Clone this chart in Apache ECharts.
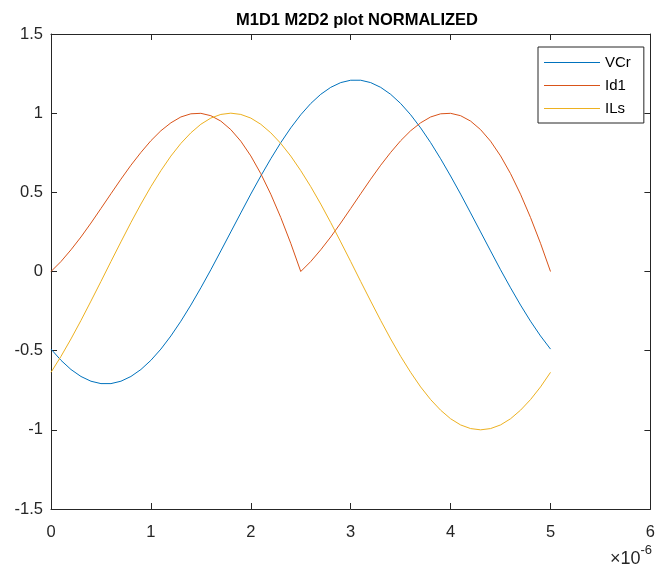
<!DOCTYPE html>
<html>
<head>
<meta charset="utf-8">
<title>M1D1 M2D2 plot NORMALIZED</title>
<script src="https://cdn.jsdelivr.net/npm/echarts@6/dist/echarts.min.js"></script>
<style>
  html, body { margin: 0; padding: 0; background: #ffffff; }
  #chart { width: 658px; height: 572px; }
</style>
</head>
<body>
<div id="chart"></div>
<script>
// Time samples, in units of 1e-6 s
const timeUs = [
  0.0, 0.1, 0.2, 0.3, 0.4, 0.5, 0.6, 0.7, 0.8, 0.9,
  1.0, 1.1, 1.2, 1.3, 1.4, 1.5, 1.6, 1.7, 1.8, 1.9,
  2.0, 2.1, 2.2, 2.3, 2.4, 2.5, 2.6, 2.7, 2.8, 2.9,
  3.0, 3.1, 3.2, 3.3, 3.4, 3.5, 3.6, 3.7, 3.8, 3.9,
  4.0, 4.1, 4.2, 4.3, 4.4, 4.5, 4.6, 4.7, 4.8, 4.9,
  5.0
];

// Normalized resonant capacitor voltage
const vcr = [
  -0.490, -0.561, -0.619, -0.663, -0.693, -0.708, -0.708, -0.693, -0.663, -0.619,
  -0.561, -0.490, -0.407, -0.314, -0.212, -0.103, 0.011, 0.130, 0.250, 0.370,
  0.489, 0.603, 0.712, 0.814, 0.907, 0.990, 1.061, 1.119, 1.163, 1.193,
  1.208, 1.208, 1.193, 1.163, 1.119, 1.061, 0.990, 0.907, 0.814, 0.712,
  0.603, 0.489, 0.370, 0.250, 0.130, 0.011, -0.103, -0.212, -0.314, -0.407,
  -0.490
];

// Normalized diode current
const id1 = [
  0.000, 0.063, 0.137, 0.218, 0.306, 0.398, 0.491, 0.583, 0.671, 0.752,
  0.826, 0.889, 0.939, 0.976, 0.996, 0.999, 0.984, 0.950, 0.896, 0.823,
  0.730, 0.618, 0.488, 0.341, 0.178, 0.000, 0.063, 0.137, 0.218, 0.306,
  0.398, 0.491, 0.583, 0.671, 0.752, 0.826, 0.889, 0.939, 0.976, 0.996,
  0.999, 0.984, 0.950, 0.896, 0.823, 0.730, 0.618, 0.488, 0.341, 0.178,
  0.000
];

// Normalized resonant inductor current
const ils = [
  -0.637, -0.536, -0.426, -0.309, -0.187, -0.063, 0.063, 0.187, 0.309, 0.426,
  0.536, 0.637, 0.729, 0.809, 0.876, 0.930, 0.969, 0.992, 1.000, 0.992,
  0.969, 0.930, 0.876, 0.809, 0.729, 0.637, 0.536, 0.426, 0.309, 0.187,
  0.063, -0.063, -0.187, -0.309, -0.426, -0.536, -0.637, -0.729, -0.809, -0.876,
  -0.930, -0.969, -0.992, -1.000, -0.992, -0.969, -0.930, -0.876, -0.809, -0.729,
  -0.637
];

const seriesNames = ['VCr', 'Id1', 'ILs'];
const seriesColors = ['#0072BD', '#D95319', '#EDB120'];
const seriesValues = [vcr, id1, ils];

const FONT = '"Liberation Sans", Arial, Helvetica, sans-serif';
const AXIS_COLOR = '#262626';

function pairs(xs, ys) {
  return xs.map((x, i) => [x, ys[i]]);
}

const chart = echarts.init(document.getElementById('chart'), null, { renderer: 'canvas' });

const axisCommon = {
  axisLine: { show: true, onZero: false, lineStyle: { color: AXIS_COLOR, width: 1 } },
  axisTick: { show: true, inside: true, length: 6, lineStyle: { color: AXIS_COLOR, width: 1 } },
  splitLine: { show: false },
  minorTick: { show: false }
};

chart.setOption({
  animation: false,
  backgroundColor: '#ffffff',
  title: {
    text: 'M1D1 M2D2 plot NORMALIZED',
    left: 352,
    textAlign: 'center',
    top: 7,
    textStyle: { fontFamily: FONT, fontSize: 16.5, fontWeight: 'bold', color: '#000000' }
  },
  grid: { left: 51, right: 5, top: 34, bottom: 63, containLabel: false },
  legend: {
    orient: 'vertical',
    left: 538,
    top: 47,
    // thin flat bars stand in for the line samples
    data: seriesNames.map(n => ({ name: n, icon: 'rect' })),
    backgroundColor: '#ffffff',
    borderColor: AXIS_COLOR,
    borderWidth: 1,
    borderRadius: 0,
    padding: [8, 13, 7, 6],
    itemGap: 8,
    itemWidth: 56,
    itemHeight: 1,
    selectedMode: false,
    textStyle: { fontFamily: FONT, fontSize: 15, color: '#000000', lineHeight: 15 }
  },
  xAxis: [
    Object.assign({
      type: 'value', position: 'bottom', min: 0, max: 6, interval: 1,
      axisLabel: { show: true, margin: 15, color: AXIS_COLOR, fontFamily: FONT, fontSize: 16.5 }
    }, axisCommon),
    Object.assign({
      type: 'value', position: 'top', min: 0, max: 6, interval: 1,
      axisLabel: { show: false }
    }, axisCommon)
  ],
  yAxis: [
    Object.assign({
      type: 'value', position: 'left', min: -1.5, max: 1.5, interval: 0.5,
      axisLabel: { show: true, margin: 8, color: AXIS_COLOR, fontFamily: FONT, fontSize: 16.5 }
    }, axisCommon),
    Object.assign({
      type: 'value', position: 'right', min: -1.5, max: 1.5, interval: 0.5,
      axisLabel: { show: false }
    }, axisCommon)
  ],
  graphic: [{
    type: 'text',
    right: 6,
    top: 544,
    style: {
      text: '{b|\u00d710}{s|-6}',
      rich: {
        b: { fontFamily: FONT, fontSize: 18, fill: AXIS_COLOR, verticalAlign: 'bottom', lineHeight: 24 },
        s: { fontFamily: FONT, fontSize: 13, fill: AXIS_COLOR, verticalAlign: 'top', lineHeight: 24 }
      }
    }
  }],
  series: seriesNames.map((name, i) => ({
    name: name,
    type: 'line',
    xAxisIndex: 0,
    yAxisIndex: 0,
    data: pairs(timeUs, seriesValues[i]),
    symbol: 'none',
    showSymbol: false,
    smooth: false,
    clip: true,
    color: seriesColors[i],
    itemStyle: { color: seriesColors[i] },
    lineStyle: { color: seriesColors[i], width: 1 }
  }))
});
</script>
</body>
</html>
